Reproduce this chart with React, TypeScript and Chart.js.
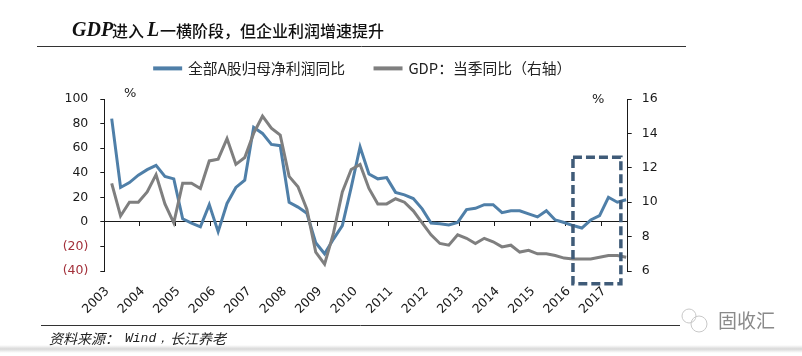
import React, { useEffect, useRef } from "react";
import { Chart, registerables } from "chart.js";

Chart.register(...registerables);

const years = ["2003","2004","2005","2006","2007","2008","2009","2010","2011","2012","2013","2014","2015","2016","2017"];
const profitSeries = [84,28,32,38,42.5,46,37,35,2.5,-1,-4,14,-8,15,28,34,77,72,63,62,16,12,7,-17,-26,-14,-3,28,61,39,35,36,24,22,19,10.6,-1,-1.5,-2.5,-0.5,10,11,14,14,7.5,9,9,6.5,4,9,1.5,-0.5,-3,-5,1.5,5,20,16,18];
const gdpSeries = [11.1,9.2,10,10,10.6,11.6,9.9,8.8,11.1,11.1,10.8,12.4,12.5,13.7,12.2,12.6,14,15,14.3,13.9,11.5,10.9,9.6,7.1,6.4,8.2,10.6,11.9,12.2,10.8,9.9,9.9,10.2,10,9.5,8.8,8.1,7.6,7.5,8.1,7.9,7.6,7.9,7.7,7.4,7.5,7.1,7.2,7,7,6.9,6.75,6.7,6.7,6.7,6.8,6.9,6.9,6.8];
const legendNames = ["全部A股归母净利润同比", "GDP：当季同比（右轴）"];
const highlight = { fromIndex: 52, toIndex: 57.4, top: 52.6, bottom: -50.4 };

const tickFont = { family: "'DejaVu Sans'", size: 12.5 };
const black = "#1a1a1a";

const legendSpacer = {
  id: "legendSpacer",
  beforeLayout(chart: any) {
    const l = chart.legend;
    if (l && !l.__patched) {
      const fit = l.fit.bind(l);
      l.fit = function () {
        fit();
        this.height = 68;
      };
      l.__patched = true;
    }
  },
};

const decorations = {
  id: "decorations",
  afterDraw(chart: any) {
    const c = chart.ctx;
    const { x, y } = chart.scales;
    c.save();
    c.textBaseline = "middle";
    c.textAlign = "left";
    // title
    c.fillStyle = "#111";
    c.font = "italic 600 20px 'Liberation Serif'";
    c.fillText("GDP", 72, 31);
    c.font = "500 16px 'Noto Sans CJK SC'";
    c.fillText("进入", 112, 31);
    c.font = "italic 600 20px 'Liberation Serif'";
    c.fillText("L", 147, 31);
    c.font = "500 16px 'Noto Sans CJK SC'";
    c.fillText("一横阶段，但企业利润增速提升", 160, 31);
    // rules
    c.strokeStyle = "#333";
    c.lineWidth = 1;
    c.beginPath();
    c.moveTo(37, 46.5); c.lineTo(686, 46.5);
    c.moveTo(41, 325.5); c.lineTo(680, 325.5);
    c.stroke();
    // percent marks
    c.fillStyle = black;
    c.font = "13px 'DejaVu Sans'";
    c.fillText("%", 124, 93.5);
    c.fillText("%", 592, 100);
    // source
    c.font = "italic 14px 'Noto Sans CJK SC'";
    c.fillStyle = "#222";
    c.fillText("资料来源：", 49, 339);
    c.font = "italic 13px 'Liberation Mono'";
    c.fillText("Wind，", 125, 339);
    c.font = "italic 14px 'Noto Sans CJK SC'";
    c.fillText("长江养老", 170, 339);
    // watermark
    c.fillStyle = "#8a8a8a";
    c.font = "19px 'Noto Sans CJK SC'";
    c.fillText("固收汇", 718, 321);
    c.strokeStyle = "#c8c8c8";
    c.lineWidth = 1;
    c.beginPath();
    c.arc(689, 316, 7, 0, Math.PI * 2);
    c.stroke();
    c.beginPath();
    c.arc(699, 324, 8, 0, Math.PI * 2);
    c.stroke();
    // bottom shadow
    const g = c.createLinearGradient(0, 345, 0, 353);
    g.addColorStop(0, "rgba(190,190,190,0)");
    g.addColorStop(0.5, "rgba(190,190,190,0.6)");
    g.addColorStop(1, "rgba(190,190,190,0)");
    c.fillStyle = g;
    c.fillRect(0, 345, 802, 8);
    // highlight box
    const x0 = x.getPixelForValue(highlight.fromIndex);
    const x1 = x.getPixelForValue(highlight.toIndex);
    const y0 = y.getPixelForValue(highlight.top);
    const y1 = y.getPixelForValue(highlight.bottom);
    c.strokeStyle = "#3f5b78";
    c.lineWidth = 3.5;
    c.setLineDash([9, 4]);
    c.strokeRect(x0, y0, x1 - x0, y1 - y0);
    c.restore();
  },
};

export default function App() {
  const ref = useRef<HTMLCanvasElement>(null);
  useEffect(() => {
    document.body.style.margin = "0";
    const tickMarks = (axis: any) => {
      axis.ticks = years.map((_, i) => ({ value: -0.834 + 4 * i }));
    };
    const chart = new Chart(ref.current!, {
      type: "line",
      data: {
        datasets: [
          {
            label: legendNames[0],
            data: profitSeries.map((v, i) => ({ x: i, y: v })),
            borderColor: "#4f7fa8",
            backgroundColor: "#4f7fa8",
            borderWidth: 3,
            pointRadius: 0,
            tension: 0,
            yAxisID: "y",
            xAxisID: "x",
            order: 1,
          },
          {
            label: legendNames[1],
            data: gdpSeries.map((v, i) => ({ x: i, y: v })),
            borderColor: "#7f7f7f",
            backgroundColor: "#7f7f7f",
            borderWidth: 3,
            pointRadius: 0,
            tension: 0,
            yAxisID: "y1",
            xAxisID: "x",
            order: 0,
          },
        ],
      },
      options: {
        responsive: false,
        animation: false,
        layout: { padding: { top: 31, right: 76, left: 0, bottom: 0 } },
        plugins: {
          tooltip: { enabled: false },
          legend: {
            display: true,
            position: "top",
            labels: {
              boxWidth: 26,
              boxHeight: 1,
              padding: 30,
              color: "#222",
              font: { family: "'Noto Sans CJK SC'", size: 14.8 },
              sort: (a: any, b: any) => a.datasetIndex - b.datasetIndex,
            },
          },
        },
        scales: {
          x: {
            type: "linear",
            position: "bottom",
            min: -0.834,
            max: 58.17,
            afterBuildTicks: tickMarks,
            afterFit: (s: any) => { s.height = 85; },
            border: { display: false },
            grid: { display: false, drawTicks: false },
            ticks: {
              autoSkip: false,
              minRotation: 45,
              maxRotation: 45,
              padding: 13,
              labelOffset: 3,
              color: black,
              font: tickFont,
              callback: (_: any, i: number) => years[i],
            },
          },
          x2: {
            type: "linear",
            position: { y: 0 } as any,
            min: -0.834,
            max: 58.17,
            afterBuildTicks: tickMarks,
            border: { display: true, color: black, width: 1 },
            grid: { drawOnChartArea: false, drawTicks: true, tickLength: 4, color: black },
            ticks: { display: false },
          },
          y: {
            position: "left",
            min: -40,
            max: 100,
            afterFit: (s: any) => { s.width = 104.3; },
            border: { display: true, color: black, width: 1 },
            grid: { drawOnChartArea: false, drawTicks: true, tickLength: 4, color: black },
            ticks: {
              stepSize: 20,
              padding: 12,
              font: tickFont,
              color: (ctx: any) => (ctx.tick.value < 0 ? "#a3303a" : black),
              callback: (v: any) => (v < 0 ? `(${-v})` : `${v}`),
            },
          },
          y1: {
            position: "right",
            min: 6,
            max: 16,
            afterFit: (s: any) => { s.width = 98.3; },
            border: { display: true, color: black, width: 1 },
            grid: { drawOnChartArea: false, drawTicks: true, tickLength: 4, color: black },
            ticks: { stepSize: 2, padding: 10, font: tickFont, color: black },
          },
        },
      },
      plugins: [legendSpacer, decorations],
    } as any);
    return () => chart.destroy();
  }, []);
  return (
    <div style={{ position: "absolute", left: 0, top: 0, width: 802, height: 356, overflow: "hidden", background: "#fff" }}>
      <canvas ref={ref} width={802} height={356} style={{ display: "block" }} />
    </div>
  );
}
